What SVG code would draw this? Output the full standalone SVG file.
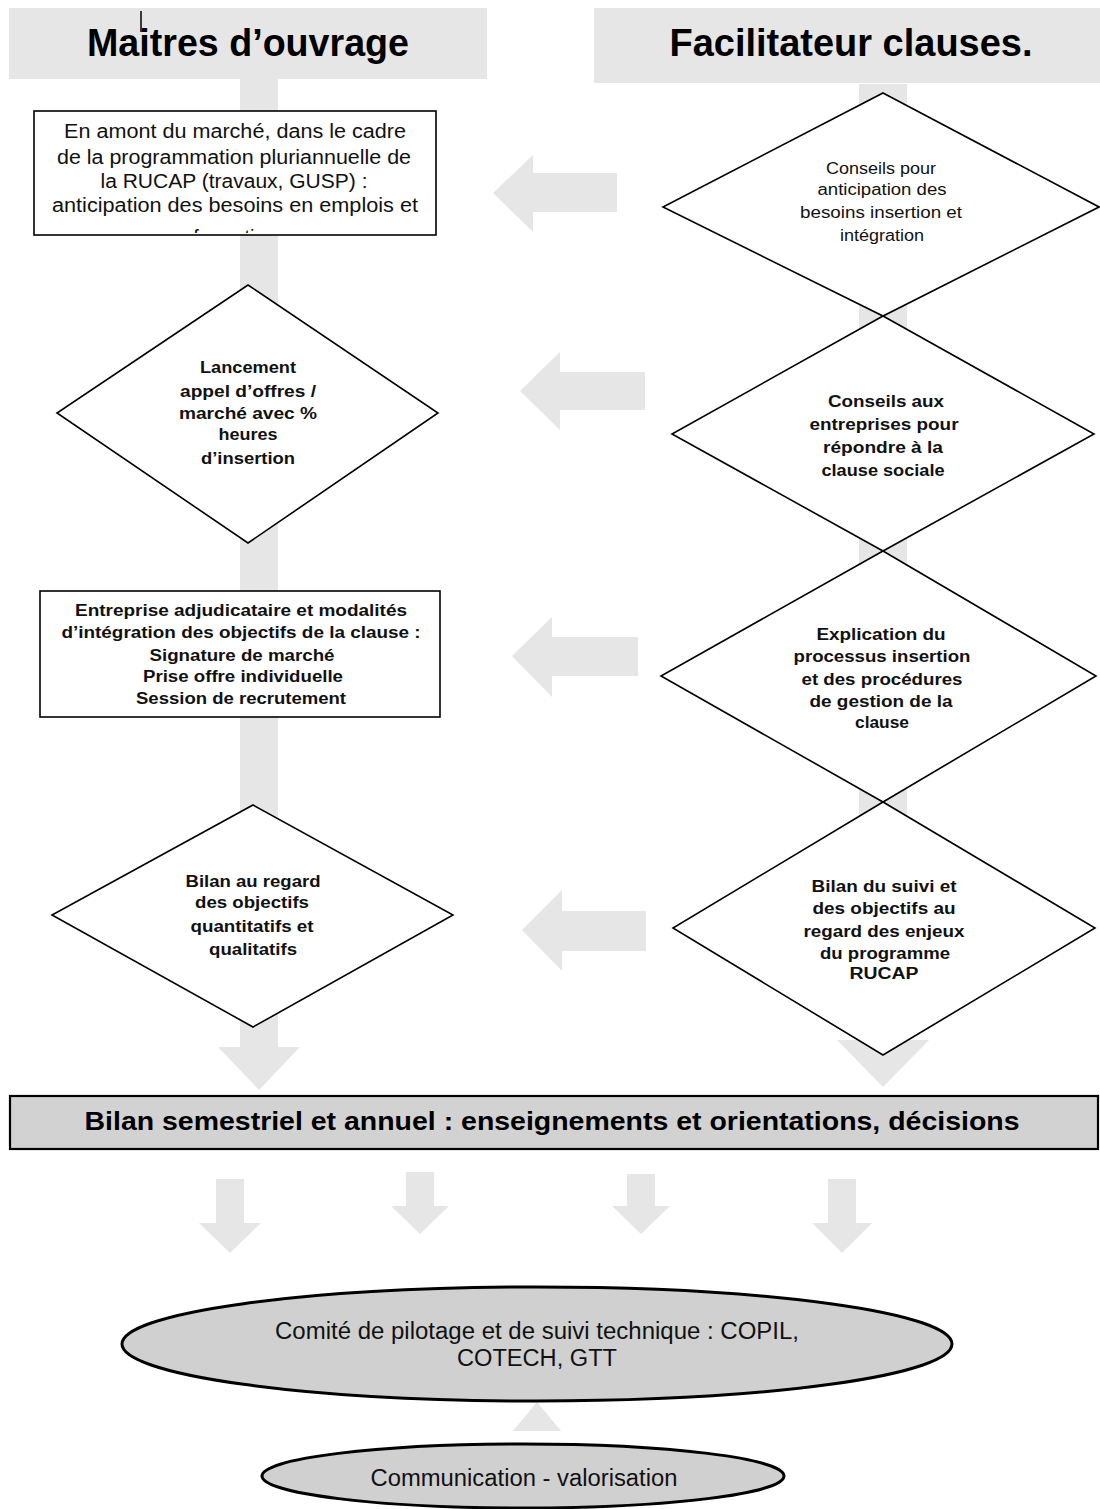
<svg xmlns="http://www.w3.org/2000/svg" width="1100" height="1509" viewBox="0 0 1100 1509">
<style>
  .bg{fill:#ffffff}
  .band{fill:#e6e6e6;stroke:none}
  .box{fill:#ffffff;stroke:#000;stroke-width:1.6}
  .dia{fill:#ffffff;stroke:#000;stroke-width:1.6;stroke-linejoin:miter}
  .gbox{fill:#d2d2d2;stroke:#000;stroke-width:2.2}
  .ell{fill:#d0d0d0;stroke:#000;stroke-width:3}
  text{font-family:"Liberation Sans",Arial,sans-serif;fill:#111;text-anchor:middle}
  .h{font-size:38px;font-weight:bold;fill:#000}
  .r{font-size:20px}
  .rs{font-size:16px}
  .b{font-size:16px;font-weight:bold}
  .bb{font-size:26px;font-weight:bold;fill:#000}
  .e{font-size:23px}
</style>
<defs>
  <clipPath id="clip1"><rect x="35" y="112" width="400" height="121"/></clipPath>
</defs>
<rect class="bg" x="0" y="0" width="1100" height="1509"/>

<g id="connectors">
  <path class="band" d="M240,79 H278 V1047 H300 L259,1090 L218,1047 H240 Z"/>
  <path class="band" d="M859,84 H907 V1040 H929 L883,1087 L837,1040 H859 Z"/>
  <path class="band" d="M617,173 V212 H533 V232 L493,193 L533,155 V173 Z"/>
  <path class="band" d="M645,372 V410 H560 V430 L520,391 L560,352 V372 Z"/>
  <path class="band" d="M638,637 V676 H552 V697 L512,656 L552,617 V637 Z"/>
  <path class="band" d="M646,911 V951 H562 V971 L522,930 L562,890 V911 Z"/>
  <path class="band" d="M216,1179 H244 V1223 H261 L230,1253 L199,1223 H216 Z"/>
  <path class="band" d="M406,1172 H434 V1206 H449 L420,1234 L391,1206 H406 Z"/>
  <path class="band" d="M627,1174 H655 V1206 H670 L641,1234 L612,1206 H627 Z"/>
  <path class="band" d="M828,1179 H856 V1223 H872 L842,1253 L812,1223 H828 Z"/>
  <path class="band" d="M537,1402 L561,1431 L513,1431 Z"/>
</g>

<g id="header-maitres">
  <rect class="band" x="9" y="8" width="478" height="71"/>
  <text class="h" x="248" y="56" textLength="322" lengthAdjust="spacingAndGlyphs">Maitres d’ouvrage</text>
  <line x1="141" y1="11" x2="141" y2="32" stroke="#000" stroke-width="1.5"/>
</g>

<g id="header-facilitateur">
  <rect class="band" x="594" y="8" width="506" height="75"/>
  <text class="h" x="851" y="56" textLength="363" lengthAdjust="spacingAndGlyphs">Facilitateur clauses.</text>
</g>

<g id="n-amont">
  <rect class="box" x="34" y="111" width="402" height="124"/>
  <g clip-path="url(#clip1)">
    <text class="r" x="235" y="138" textLength="342" lengthAdjust="spacingAndGlyphs">En amont du marché, dans le cadre</text>
    <text class="r" x="234" y="164" textLength="354" lengthAdjust="spacingAndGlyphs">de la programmation pluriannuelle de</text>
    <text class="r" x="234" y="188" textLength="267" lengthAdjust="spacingAndGlyphs">la RUCAP (travaux, GUSP) :</text>
    <text class="r" x="235" y="212" textLength="366" lengthAdjust="spacingAndGlyphs">anticipation des besoins en emplois et</text>
    <text class="r" x="235" y="244">formation</text>
  </g>
</g>

<g id="n-lancement">
  <polygon class="dia" points="248,285 438,413 248,543 57,413"/>
  <text class="b" x="248" y="373" textLength="96" lengthAdjust="spacingAndGlyphs">Lancement</text>
  <text class="b" x="248" y="397" textLength="136" lengthAdjust="spacingAndGlyphs">appel d’offres /</text>
  <text class="b" x="248" y="419" textLength="138" lengthAdjust="spacingAndGlyphs">marché avec %</text>
  <text class="b" x="248" y="440" textLength="59" lengthAdjust="spacingAndGlyphs">heures</text>
  <text class="b" x="248" y="464" textLength="94" lengthAdjust="spacingAndGlyphs">d’insertion</text>
</g>

<g id="n-entreprise">
  <rect class="box" x="40" y="591" width="400" height="126"/>
  <text class="b" x="241" y="616" textLength="332" lengthAdjust="spacingAndGlyphs">Entreprise adjudicataire et modalités</text>
  <text class="b" x="241" y="638" textLength="359" lengthAdjust="spacingAndGlyphs">d’intégration des objectifs de la clause :</text>
  <text class="b" x="242" y="661" textLength="185" lengthAdjust="spacingAndGlyphs">Signature de marché</text>
  <text class="b" x="243" y="682" textLength="200" lengthAdjust="spacingAndGlyphs">Prise offre individuelle</text>
  <text class="b" x="241" y="704" textLength="210" lengthAdjust="spacingAndGlyphs">Session de recrutement</text>
</g>

<g id="n-bilan-regard">
  <polygon class="dia" points="253,805 453,915 253,1027 52,915"/>
  <text class="b" x="253" y="887" textLength="135" lengthAdjust="spacingAndGlyphs">Bilan au regard</text>
  <text class="b" x="252" y="908" textLength="114" lengthAdjust="spacingAndGlyphs">des objectifs</text>
  <text class="b" x="252" y="932" textLength="123" lengthAdjust="spacingAndGlyphs">quantitatifs et</text>
  <text class="b" x="253" y="955" textLength="88" lengthAdjust="spacingAndGlyphs">qualitatifs</text>
</g>

<g id="n-conseils-anticipation">
  <polygon class="dia" points="883,93 1099,207 883,316 663,207"/>
  <text class="rs" x="881" y="174" textLength="110" lengthAdjust="spacingAndGlyphs">Conseils pour</text>
  <text class="rs" x="882" y="195" textLength="129" lengthAdjust="spacingAndGlyphs">anticipation des</text>
  <text class="rs" x="881" y="218" textLength="162" lengthAdjust="spacingAndGlyphs">besoins insertion et</text>
  <text class="rs" x="882" y="241" textLength="84" lengthAdjust="spacingAndGlyphs">intégration</text>
</g>

<g id="n-conseils-entreprises">
  <polygon class="dia" points="883,316 1094,434 883,551 672,434"/>
  <text class="b" x="886" y="407" textLength="116" lengthAdjust="spacingAndGlyphs">Conseils aux</text>
  <text class="b" x="884" y="430" textLength="149" lengthAdjust="spacingAndGlyphs">entreprises pour</text>
  <text class="b" x="883" y="453" textLength="120" lengthAdjust="spacingAndGlyphs">répondre à la</text>
  <text class="b" x="883" y="476" textLength="123" lengthAdjust="spacingAndGlyphs">clause sociale</text>
</g>

<g id="n-explication">
  <polygon class="dia" points="883,551 1096,676 883,802 661,676"/>
  <text class="b" x="881" y="640" textLength="129" lengthAdjust="spacingAndGlyphs">Explication du</text>
  <text class="b" x="882" y="662" textLength="177" lengthAdjust="spacingAndGlyphs">processus insertion</text>
  <text class="b" x="882" y="685" textLength="161" lengthAdjust="spacingAndGlyphs">et des procédures</text>
  <text class="b" x="881" y="707" textLength="143" lengthAdjust="spacingAndGlyphs">de gestion de la</text>
  <text class="b" x="882" y="728" textLength="54" lengthAdjust="spacingAndGlyphs">clause</text>
</g>

<g id="n-bilan-suivi">
  <polygon class="dia" points="883,802 1095,928 883,1055 673,928"/>
  <text class="b" x="884" y="892" textLength="145" lengthAdjust="spacingAndGlyphs">Bilan du suivi et</text>
  <text class="b" x="884" y="914" textLength="143" lengthAdjust="spacingAndGlyphs">des objectifs au</text>
  <text class="b" x="884" y="937" textLength="161" lengthAdjust="spacingAndGlyphs">regard des enjeux</text>
  <text class="b" x="885" y="959" textLength="130" lengthAdjust="spacingAndGlyphs">du programme</text>
  <text class="b" x="884" y="979" textLength="69" lengthAdjust="spacingAndGlyphs">RUCAP</text>
</g>

<g id="n-bilan-semestriel">
  <rect class="gbox" x="10" y="1096" width="1088" height="53"/>
  <text class="bb" x="552" y="1130" textLength="935" lengthAdjust="spacingAndGlyphs">Bilan semestriel et annuel : enseignements et orientations, décisions</text>
</g>

<g id="n-comite">
  <ellipse class="ell" cx="537" cy="1344" rx="415" ry="57"/>
  <text class="e" x="537" y="1339" textLength="524" lengthAdjust="spacingAndGlyphs">Comité de pilotage et de suivi technique : COPIL,</text>
  <text class="e" x="537" y="1366" textLength="160" lengthAdjust="spacingAndGlyphs">COTECH, GTT</text>
</g>

<g id="n-communication">
  <ellipse class="ell" cx="523" cy="1476" rx="261" ry="32"/>
  <text class="e" x="524" y="1486" textLength="307" lengthAdjust="spacingAndGlyphs">Communication - valorisation</text>
</g>
</svg>
